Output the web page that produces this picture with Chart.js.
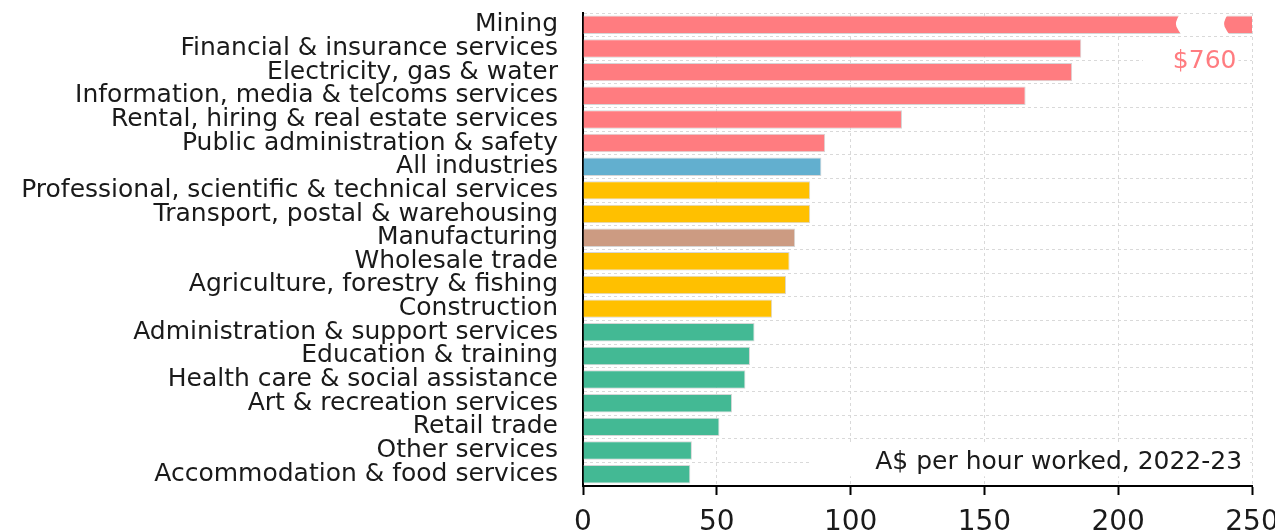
<!DOCTYPE html>
<html>
<head>
<meta charset="utf-8">
<script src="https://cdn.jsdelivr.net/npm/chart.js@4/dist/chart.umd.min.js"></script>
<style>
  html, body { margin: 0; padding: 0; background: #ffffff; }
  #wrap { width: 1275px; height: 532px; overflow: hidden; }
</style>
</head>
<body>
<div id="wrap"><canvas id="c" width="1275" height="532"></canvas></div>
<script>
// ---- data ----
const categories = [
  "Mining",
  "Financial & insurance services",
  "Electricity, gas & water",
  "Information, media & telcoms services",
  "Rental, hiring & real estate services",
  "Public administration & safety",
  "All industries",
  "Professional, scientific & technical services",
  "Transport, postal & warehousing",
  "Manufacturing",
  "Wholesale trade",
  "Agriculture, forestry & fishing",
  "Construction",
  "Administration & support services",
  "Education & training",
  "Health care & social assistance",
  "Art & recreation services",
  "Retail trade",
  "Other services",
  "Accommodation & food services"
];
const values = [760, 186.2, 182.8, 165.4, 119.2, 90.5, 89.1, 84.9, 84.9, 79.3, 77.2, 75.9, 70.7, 64.1, 62.4, 60.7, 55.7, 51.0, 40.7, 40.1];
const groups = ["high","high","high","high","high","high","all","mid","mid","manu","mid","mid","mid","low","low","low","low","low","low","low"];
const groupColors = { high: "#FF7C80", all: "#62AFCF", mid: "#FFC000", manu: "#CC9B82", low: "#43B994" };
const xTicks = [0, 50, 100, 150, 200, 250];
const xMax = 250;
const breakFrom = 221.4;   // axis break on the Mining bar (in axis units)
const breakTo = 239.4;
const miningLabel = "$760";
const unitLabel = "A$ per hour worked, 2022-23";

const FONT = "'DejaVu Sans', sans-serif";

function breakEdgeDown(ctx, xm, top, h) {
  // "(" shaped edge from top to bottom
  ctx.quadraticCurveTo(xm - 1, top + h * 0.4, xm + 1, top + h * 0.6);
  ctx.quadraticCurveTo(xm + 3, top + h * 0.8, xm + 6, top + h);
}

const annotate = {
  id: 'annotate',
  afterDatasetsDraw(chart) {
    const ctx = chart.ctx;
    const x = chart.scales.x, y = chart.scales.y;
    const meta = chart.getDatasetMeta(0);
    // axis break on first bar
    const bar = meta.data[0];
    const top = bar.y - bar.height / 2 - 1;
    const bot = bar.y + bar.height / 2 + 1;
    const h = bot - top;
    const xl = x.getPixelForValue(breakFrom);
    const xr = x.getPixelForValue(breakTo);
    ctx.save();
    ctx.fillStyle = '#ffffff';
    ctx.beginPath();
    ctx.moveTo(xl + 4, top);
    breakEdgeDown(ctx, xl, top, h);
    ctx.lineTo(xr + 6, bot);
    ctx.quadraticCurveTo(xr + 3, top + h * 0.8, xr + 1, top + h * 0.6);
    ctx.quadraticCurveTo(xr - 1, top + h * 0.4, xr + 4, top);
    ctx.closePath();
    ctx.fill();

    // $760 label with white backing
    const step = (y.getPixelForValue(1) - y.getPixelForValue(0));
    const ly = y.getPixelForValue(1) + step / 2;
    ctx.font = "25px " + FONT;
    ctx.textBaseline = 'middle';
    ctx.textAlign = 'right';
    const lx = x.getPixelForValue(244.2);
    const lw = ctx.measureText(miningLabel).width;
    ctx.fillRect(lx - lw - 30, ly - 6, lw + 32, 12);
    ctx.fillStyle = '#FF7C80';
    ctx.fillText(miningLabel, lx, ly + 1);

    // units label with white backing
    const uy = y.getPixelForValue(categories.length - 1) - step / 2;
    const ux = x.getPixelForValue(246.3);
    const uw = ctx.measureText(unitLabel).width;
    ctx.fillStyle = '#ffffff';
    ctx.fillRect(ux - uw - 66, uy - 20, uw + 72, 34);
    ctx.fillStyle = '#1a1a1a';
    ctx.fillText(unitLabel, ux, uy);
    ctx.restore();
  }
};

new Chart(document.getElementById('c'), {
  type: 'bar',
  data: {
    labels: categories,
    datasets: [{
      data: values,
      backgroundColor: groups.map(g => groupColors[g]),
      borderColor: '#d6d6d6',
      borderWidth: 1,
      categoryPercentage: 1.0,
      barPercentage: 0.78
    }]
  },
  options: {
    indexAxis: 'y',
    responsive: false,
    devicePixelRatio: 1,
    animation: false,
    layout: { padding: { top: 13, right: 23, left: 0, bottom: 0 } },
    plugins: { legend: { display: false }, tooltip: { enabled: false } },
    scales: {
      x: {
        min: 0, max: xMax,
        afterBuildTicks(scale) { scale.ticks = xTicks.map(v => ({ value: v })); },
        afterFit(scale) {
          scale.height = 46;
          scale.paddingLeft = 0; scale.paddingRight = 0;
          scale.paddingTop = 0; scale.paddingBottom = 0;
        },
        grid: {
          color: '#d9d9d9', lineWidth: 1,
          drawTicks: true, tickLength: 9, tickColor: '#000000', tickWidth: 2, tickBorderDash: []
        },
        border: { display: true, color: '#000000', width: 2, dash: [3, 3] },
        ticks: { color: '#1a1a1a', font: { family: FONT, size: 28 }, padding: 11, maxRotation: 0 }
      },
      y: {
        afterFit(scale) {
          scale.width = 583;
          scale.paddingTop = 0; scale.paddingBottom = 0;
          scale.paddingLeft = 0; scale.paddingRight = 0;
        },
        grid: { color: '#d9d9d9', lineWidth: 1, drawTicks: false, offset: true },
        border: { display: true, color: '#000000', width: 2, dash: [3, 3] },
        ticks: { color: '#1a1a1a', font: { family: FONT, size: 25 }, padding: 25, autoSkip: false }
      }
    }
  },
  plugins: [annotate]
});
</script>
</body>
</html>
